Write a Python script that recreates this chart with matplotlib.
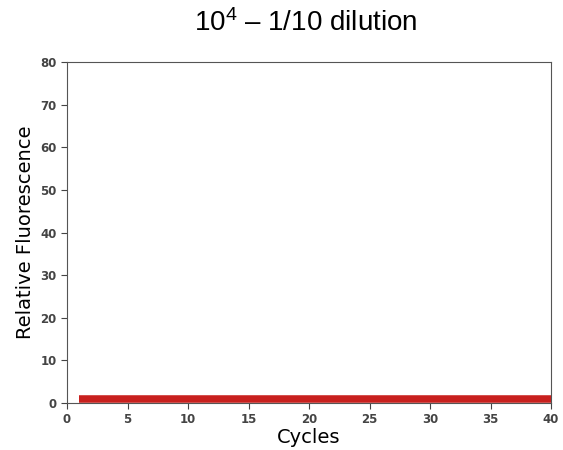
import matplotlib
matplotlib.use("Agg")
import matplotlib.pyplot as plt

plt.rcParams["mathtext.fontset"] = "custom"
plt.rcParams["mathtext.rm"] = "Liberation Sans"
plt.rcParams["mathtext.it"] = "Liberation Sans"

cycles = list(range(1, 41))
rep1 = [1.0, 1.0, 1.0, 1.0, 1.0, 1.0, 1.0, 1.0, 1.0, 1.0,
        1.0, 1.0, 1.0, 1.0, 1.0, 1.0, 1.0, 1.0, 1.0, 1.0,
        1.0, 1.0, 1.0, 1.0, 1.0, 1.0, 1.0, 1.0, 1.0, 1.0,
        1.0, 1.0, 1.0, 1.0, 1.0, 1.0, 1.0, 1.0, 1.0, 1.0]
rep2 = [0.8, 0.8, 0.8, 0.8, 0.8, 0.8, 0.8, 0.8, 0.8, 0.8,
        0.8, 0.8, 0.8, 0.8, 0.8, 0.8, 0.8, 0.8, 0.8, 0.8,
        0.8, 0.8, 0.8, 0.8, 0.8, 0.8, 0.8, 0.8, 0.8, 0.8,
        0.8, 0.8, 0.8, 0.8, 0.8, 0.8, 0.8, 0.8, 0.8, 0.8]
rep3 = [1.2, 1.2, 1.2, 1.2, 1.2, 1.2, 1.2, 1.2, 1.2, 1.2,
        1.2, 1.2, 1.2, 1.2, 1.2, 1.2, 1.2, 1.2, 1.2, 1.2,
        1.2, 1.2, 1.2, 1.2, 1.2, 1.2, 1.2, 1.2, 1.2, 1.2,
        1.2, 1.2, 1.2, 1.2, 1.2, 1.2, 1.2, 1.2, 1.2, 1.2]
replicates = [rep1, rep2, rep3]
xticks = [0, 5, 10, 15, 20, 25, 30, 35, 40]
yticks = [0, 10, 20, 30, 40, 50, 60, 70, 80]

fig = plt.figure(figsize=(5.63, 4.5), dpi=100)
ax = fig.add_axes([67/563, 1 - 403/450, (551-67)/563, (403-62)/450])

for rep in replicates:
    ax.plot(cycles, rep, color="#c8201e", linewidth=4, solid_capstyle="butt")

ax.set_xlim(0, 40)
ax.set_ylim(0, 80)
ax.set_xticks(xticks)
ax.set_yticks(yticks)
ax.tick_params(labelsize=8.5, colors="#444444", length=4)
for lab in ax.get_xticklabels() + ax.get_yticklabels():
    lab.set_fontweight("bold")
for s in ax.spines.values():
    s.set_color("#555555")
ax.set_xlabel("Cycles", fontsize=14, labelpad=1)
ax.set_ylabel("Relative Fluorescence", fontsize=14, labelpad=4)

fig.text(0.543, 1 - 23/450, r"10$^{4}$ – 1/10 dilution", ha="center", va="center",
         fontsize=20, family="Liberation Sans")

fig.savefig("out.png", dpi=100)
